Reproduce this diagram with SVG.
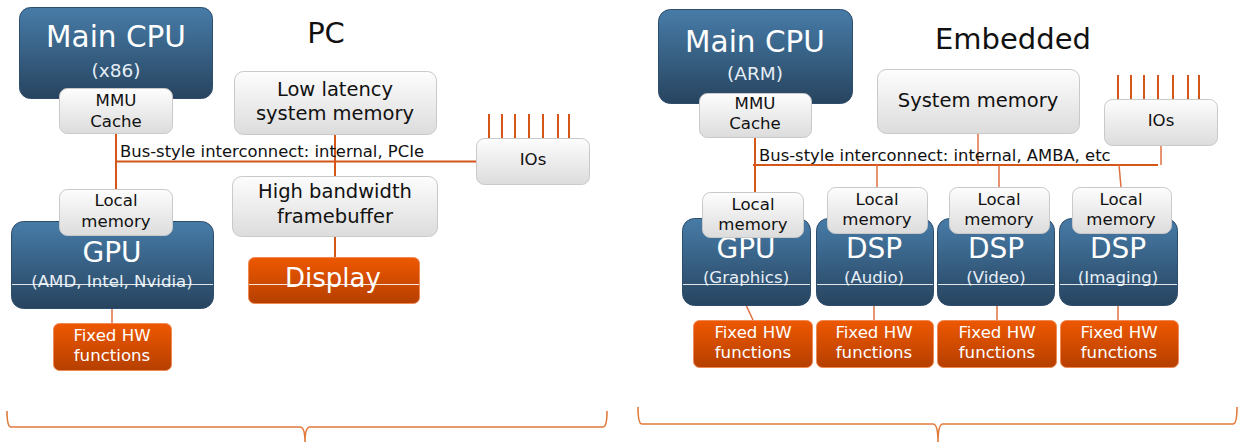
<svg xmlns="http://www.w3.org/2000/svg" width="1241" height="442" viewBox="0 0 1241 442">
<defs>
<linearGradient id="gBlue" x1="0" y1="0" x2="0" y2="1">
<stop offset="0" stop-color="#477ca8"/>
<stop offset="1" stop-color="#27445f"/>
</linearGradient>
<linearGradient id="gGray" x1="0" y1="0" x2="0" y2="1">
<stop offset="0" stop-color="#fdfdfd"/>
<stop offset="1" stop-color="#dcdcdc"/>
</linearGradient>
<linearGradient id="gOrange" x1="0" y1="0" x2="0" y2="1">
<stop offset="0" stop-color="#ee5800"/>
<stop offset="1" stop-color="#b53f00"/>
</linearGradient>
<style>
.blue{fill:url(#gBlue);stroke:#2e4c6c;stroke-width:1}
.gray{fill:url(#gGray);stroke:#c9c9c9;stroke-width:1}
.orange{fill:url(#gOrange);stroke:#f08a55;stroke-width:1}
.gloss{stroke:#ffffff;stroke-width:1;opacity:0.85}
.t{font-family:"DejaVu Sans","Liberation Sans",sans-serif;text-anchor:middle}
.s{font-size:16.6px}
.m{font-size:19.5px}
.dark{fill:#111111}
.white{fill:#ffffff}
.sub{fill:#e6eef6}
.wire{stroke:#d4561a;stroke-width:2;fill:none}
.thin{stroke:#e07040;stroke-width:1.5;fill:none}
.brace{stroke:#e07b3c;stroke-width:1.6;fill:none}
.bus{font-family:"DejaVu Sans","Liberation Sans",sans-serif;font-size:16.4px;fill:#111111}
</style>
</defs>

<!-- titles -->
<text class="t dark" x="326" y="43" font-size="29">PC</text>
<text class="t dark" x="1013" y="49" font-size="29">Embedded</text>

<!-- connectors -->
<g id="connectors">
<!-- PC -->
<line class="wire" x1="116" y1="133" x2="116" y2="189"/>
<line class="wire" x1="116" y1="161.5" x2="476" y2="161.5"/>
<line class="wire" x1="335" y1="135" x2="335" y2="176"/>
<line class="wire" x1="335" y1="236" x2="335" y2="257"/>
<line class="thin" x1="112" y1="308" x2="112" y2="323"/>
<g class="wire">
<line x1="489" y1="114" x2="489" y2="138"/>
<line x1="502" y1="114" x2="502" y2="138"/>
<line x1="515" y1="114" x2="515" y2="138"/>
<line x1="529" y1="114" x2="529" y2="138"/>
<line x1="543" y1="114" x2="543" y2="138"/>
<line x1="558" y1="114" x2="558" y2="138"/>
<line x1="569" y1="114" x2="569" y2="138"/>
</g>
<!-- Embedded -->
<line class="wire" x1="755" y1="137" x2="755" y2="192"/>
<line class="wire" x1="753" y1="165" x2="1158" y2="165"/>
<line class="thin" x1="978" y1="133" x2="978" y2="165"/>
<line class="thin" x1="1161" y1="145" x2="1161" y2="165"/>
<line class="thin" x1="877" y1="165" x2="877" y2="187"/>
<line class="thin" x1="999" y1="165" x2="999" y2="187"/>
<line class="thin" x1="1119" y1="165" x2="1121" y2="187"/>
<g class="wire">
<line x1="1118" y1="75" x2="1118" y2="99"/>
<line x1="1131" y1="75" x2="1131" y2="99"/>
<line x1="1144" y1="75" x2="1144" y2="99"/>
<line x1="1158" y1="75" x2="1158" y2="99"/>
<line x1="1173" y1="75" x2="1173" y2="99"/>
<line x1="1188" y1="75" x2="1188" y2="99"/>
<line x1="1199" y1="75" x2="1199" y2="99"/>
</g>
<line class="thin" x1="746" y1="305" x2="753" y2="320"/>
<line class="thin" x1="874" y1="305" x2="874" y2="320"/>
<line class="thin" x1="997" y1="305" x2="997" y2="320"/>
<line class="thin" x1="1118" y1="305" x2="1118" y2="320"/>
</g>

<text class="bus" x="120" y="157">Bus-style interconnect: internal, PCIe</text>
<text class="bus" x="759" y="161">Bus-style interconnect: internal, AMBA, etc</text>

<!-- PC nodes -->
<g id="pc-cpu">
<rect class="blue" x="19.5" y="7.5" width="193" height="91" rx="11"/>
<text class="t white" x="116" y="47" font-size="29.5">Main CPU</text>
<text class="t sub" x="116" y="77" font-size="18.5">(x86)</text>
</g>
<g id="pc-mmu">
<rect class="gray" x="59.5" y="88.5" width="113" height="45" rx="8"/>
<text class="t dark s" x="116" y="106">MMU</text>
<text class="t dark s" x="116" y="127">Cache</text>
</g>
<g id="pc-sysmem">
<rect class="gray" x="234.5" y="71.5" width="202" height="63" rx="9"/>
<text class="t dark m" x="335" y="96">Low latency</text>
<text class="t dark m" x="335" y="120">system memory</text>
</g>
<g id="pc-fb">
<rect class="gray" x="232.5" y="176.5" width="205" height="60" rx="9"/>
<text class="t dark m" x="335" y="198">High bandwidth</text>
<text class="t dark m" x="335" y="223">framebuffer</text>
</g>
<g id="pc-display">
<rect class="orange" x="248.5" y="257.5" width="171" height="46" rx="6"/>
<text class="t white" x="333" y="287" font-size="26">Display</text>
<line class="gloss" x1="249" y1="284.5" x2="419" y2="284.5"/>
</g>
<g id="pc-ios">
<rect class="gray" x="476.5" y="138.5" width="113" height="46" rx="8"/>
<text class="t dark s" x="533" y="165">IOs</text>
</g>
<g id="pc-gpu">
<rect class="blue" x="11.5" y="221.5" width="202" height="87" rx="12"/>
<text class="t white" x="112" y="262" font-size="28">GPU</text>
<text class="t sub s" x="112" y="287">(AMD, Intel, Nvidia)</text>
<line class="gloss" x1="12" y1="284.5" x2="213" y2="284.5"/>
</g>
<g id="pc-localmem">
<rect class="gray" x="59.5" y="189.5" width="113" height="46" rx="8"/>
<text class="t dark s" x="116" y="206">Local</text>
<text class="t dark s" x="116" y="227">memory</text>
</g>
<g id="pc-fixed">
<rect class="orange" x="53.5" y="323.5" width="118" height="47" rx="6"/>
<text class="t white s" x="112" y="341">Fixed HW</text>
<text class="t white s" x="112" y="361">functions</text>
</g>

<!-- Embedded nodes -->
<g id="emb-cpu">
<rect class="blue" x="658.5" y="9.5" width="194" height="94" rx="12"/>
<text class="t white" x="755" y="52" font-size="29.5">Main CPU</text>
<text class="t sub" x="755" y="80" font-size="18.5">(ARM)</text>
</g>
<g id="emb-mmu">
<rect class="gray" x="699.5" y="93.5" width="112" height="44" rx="8"/>
<text class="t dark s" x="755" y="109">MMU</text>
<text class="t dark s" x="755" y="129">Cache</text>
</g>
<g id="emb-sysmem">
<rect class="gray" x="877.5" y="69.5" width="202" height="64" rx="9"/>
<text class="t dark m" x="978" y="107">System memory</text>
</g>
<g id="emb-ios">
<rect class="gray" x="1104.5" y="99.5" width="113" height="46" rx="8"/>
<text class="t dark s" x="1161" y="126">IOs</text>
</g>

<g id="emb-gpu">
<rect class="blue" x="682.5" y="218.5" width="128" height="87" rx="12"/>
<text class="t white" x="746" y="258" font-size="28">GPU</text>
<text class="t sub s" x="746" y="283">(Graphics)</text>
<line class="gloss" x1="683" y1="284.5" x2="810" y2="284.5"/>
</g>
<g id="emb-gpu-mem">
<rect class="gray" x="702.5" y="192.5" width="101" height="45" rx="8"/>
<text class="t dark s" x="753" y="210">Local</text>
<text class="t dark s" x="753" y="230">memory</text>
</g>
<g id="emb-gpu-fixed">
<rect class="orange" x="693.5" y="320.5" width="119" height="47" rx="6"/>
<text class="t white s" x="753" y="338">Fixed HW</text>
<text class="t white s" x="753" y="358">functions</text>
</g>

<g id="emb-audio">
<rect class="blue" x="816.5" y="218.5" width="117" height="87" rx="12"/>
<text class="t white" x="874" y="258" font-size="28">DSP</text>
<text class="t sub s" x="874" y="283">(Audio)</text>
<line class="gloss" x1="817" y1="284.5" x2="933" y2="284.5"/>
</g>
<g id="emb-audio-mem">
<rect class="gray" x="827.5" y="187.5" width="100" height="46" rx="8"/>
<text class="t dark s" x="877" y="205">Local</text>
<text class="t dark s" x="877" y="225">memory</text>
</g>
<g id="emb-audio-fixed">
<rect class="orange" x="816.5" y="320.5" width="117" height="47" rx="6"/>
<text class="t white s" x="874" y="338">Fixed HW</text>
<text class="t white s" x="874" y="358">functions</text>
</g>

<g id="emb-video">
<rect class="blue" x="937.5" y="218.5" width="117" height="87" rx="12"/>
<text class="t white" x="996" y="258" font-size="28">DSP</text>
<text class="t sub s" x="996" y="283">(Video)</text>
<line class="gloss" x1="938" y1="284.5" x2="1054" y2="284.5"/>
</g>
<g id="emb-video-mem">
<rect class="gray" x="949.5" y="187.5" width="100" height="46" rx="8"/>
<text class="t dark s" x="999" y="205">Local</text>
<text class="t dark s" x="999" y="225">memory</text>
</g>
<g id="emb-video-fixed">
<rect class="orange" x="937.5" y="320.5" width="119" height="47" rx="6"/>
<text class="t white s" x="997" y="338">Fixed HW</text>
<text class="t white s" x="997" y="358">functions</text>
</g>

<g id="emb-imaging">
<rect class="blue" x="1059.5" y="218.5" width="118" height="87" rx="12"/>
<text class="t white" x="1118" y="258" font-size="28">DSP</text>
<text class="t sub s" x="1118" y="283">(Imaging)</text>
<line class="gloss" x1="1060" y1="284.5" x2="1177" y2="284.5"/>
</g>
<g id="emb-imaging-mem">
<rect class="gray" x="1072.5" y="187.5" width="99" height="46" rx="8"/>
<text class="t dark s" x="1121" y="205">Local</text>
<text class="t dark s" x="1121" y="225">memory</text>
</g>
<g id="emb-imaging-fixed">
<rect class="orange" x="1060.5" y="320.5" width="118" height="47" rx="6"/>
<text class="t white s" x="1119" y="338">Fixed HW</text>
<text class="t white s" x="1119" y="358">functions</text>
</g>

<!-- braces -->
<g id="braces">
<path class="brace" d="M7,411 Q7,427 11,427 L300,427 Q305,427 305,442 Q305,427 310,427 L603,427 Q607,427 607,411"/>
<path class="brace" d="M638,407 Q638,424 642,424 L933,424 Q938,424 938,442 Q938,424 943,424 L1233,424 Q1237,424 1237,407"/>
</g>
</svg>
